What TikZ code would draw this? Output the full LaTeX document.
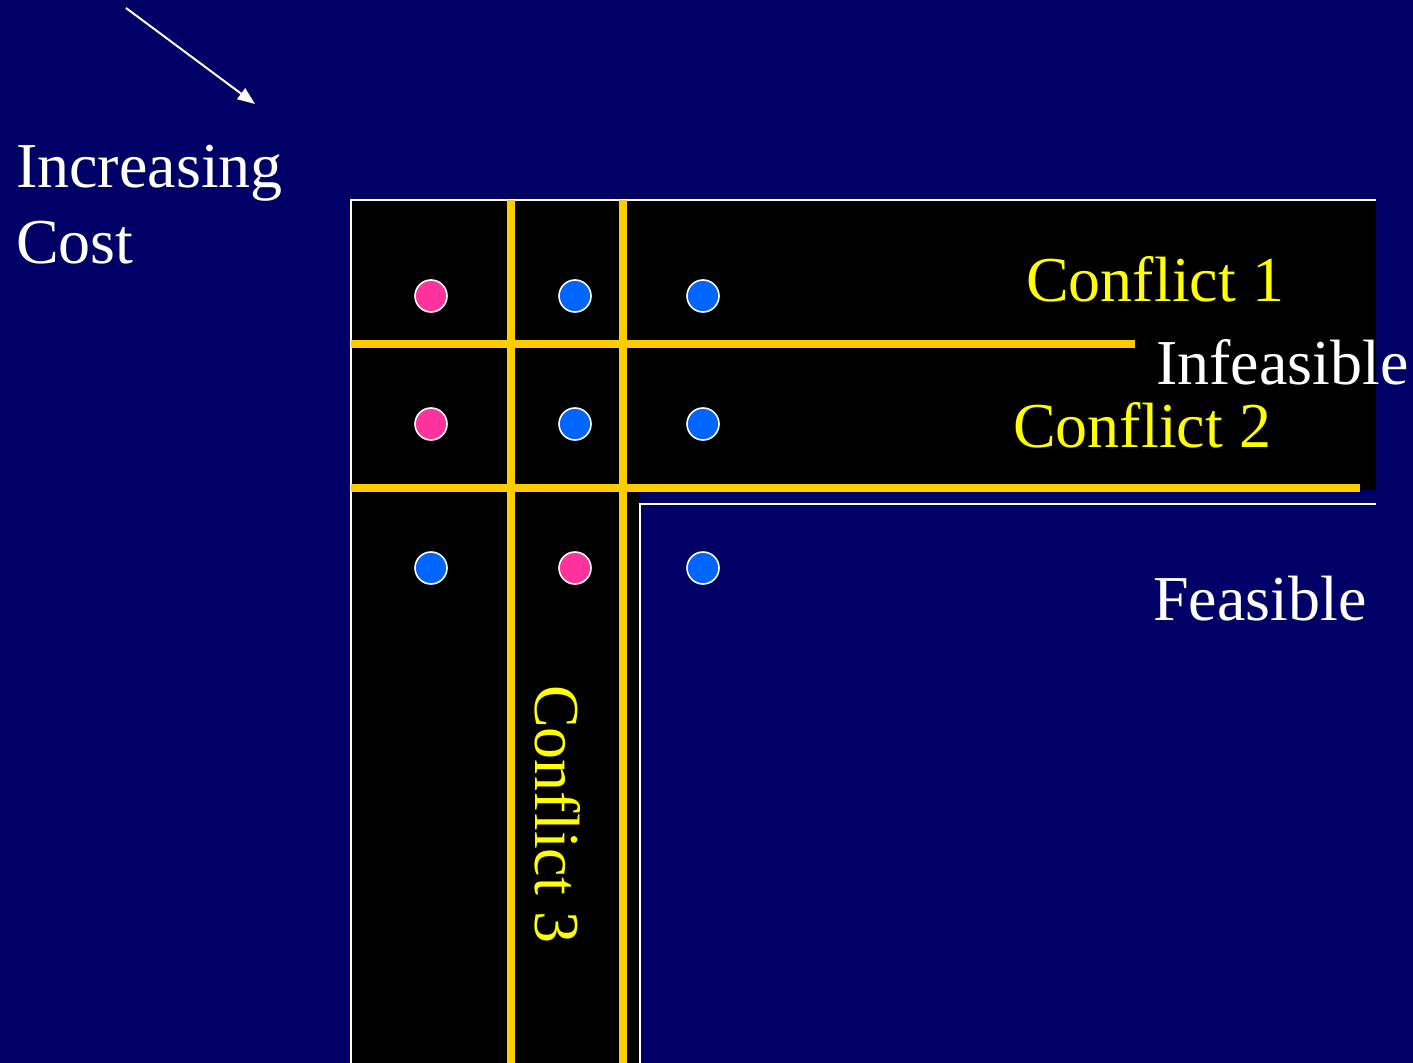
\documentclass[tikz,border=0pt]{standalone}
\usepackage{fontspec}
\setmainfont{Liberation Serif}
\usetikzlibrary{arrows.meta}
\definecolor{navy}{RGB}{0,0,102}
\definecolor{gold}{RGB}{255,204,0}
\definecolor{lemon}{RGB}{255,255,0}
\definecolor{rose}{RGB}{255,51,153}
\definecolor{azure}{RGB}{0,102,255}
\tikzset{
	label text/.style={anchor=base west, inner sep=0pt, font=\fontsize{48}{56}\selectfont},
	conflict line/.style={gold, line width=6pt},
	dot/.style={circle, draw=white, line width=1.2pt, minimum size=24pt, inner sep=0pt},
}
\begin{document}
\begin{tikzpicture}[x=0.75pt, y=-0.75pt]
	\useasboundingbox (0,0) rectangle (1413,1063);
	\fill[navy] (0,0) rectangle (1413,1063);
	% infeasible region
	\fill[black] (351,200) -- (1376,200) -- (1376,490) -- (640,490) -- (640,1063) -- (351,1063) -- cycle;
	\draw[white, line width=2pt] (351,1063) -- (351,200) -- (1376,200);
	\draw[white, line width=2pt] (640,1063) -- (640,504) -- (1376,504);
	% conflict boundaries
	\foreach \name/\xa/\ya/\xb/\yb in {
		row one/351/344/1135/344,
		row two/351/488/1360/488,
		col one/511/200/511/1063,
		col two/623/200/623/1063
	}
	{
		\coordinate (\name a) at (\xa,\ya);
		\coordinate (\name b) at (\xb,\yb);
		\draw[conflict line] (\name a) -- (\name b);
	}
	% solutions
	\foreach [count=\i] \y/\colours in {296/{rose,azure,azure}, 424/{rose,azure,azure}, 568/{azure,rose,azure}}
	{
		\foreach [count=\j] \colr in \colours
		{
			\pgfmathsetmacro{\xpos}{{431,575,703}[\j-1]}
			\node[dot, fill=\colr] (dot\i\j) at (\xpos,\y) {};
		}
	}
	% labels
	\node[label text, text=lemon] (conflict one) at (1026,301) {Conflict 1};
	\node[label text, text=white] (infeasible) at (1156,384) {Infeasible};
	\node[label text, text=lemon] (conflict two) at (1013,447) {Conflict 2};
	\node[label text, text=white] (feasible) at (1153,620) {Feasible};
	\node[label text, text=lemon, rotate=-90] (conflict three) at (535,685) {Conflict 3};
	\node[label text, text=white] (increasing) at (16,187) {Increasing};
	\node[label text, text=white] (cost) at (16,263) {Cost};
	% cost direction
	\coordinate (cost tail) at (126,8);
	\coordinate (cost head) at (255,104);
	\draw[white, line width=1.5pt, -{Triangle[length=13pt, width=10pt]}] (cost tail) -- (cost head);
\end{tikzpicture}
\end{document}
